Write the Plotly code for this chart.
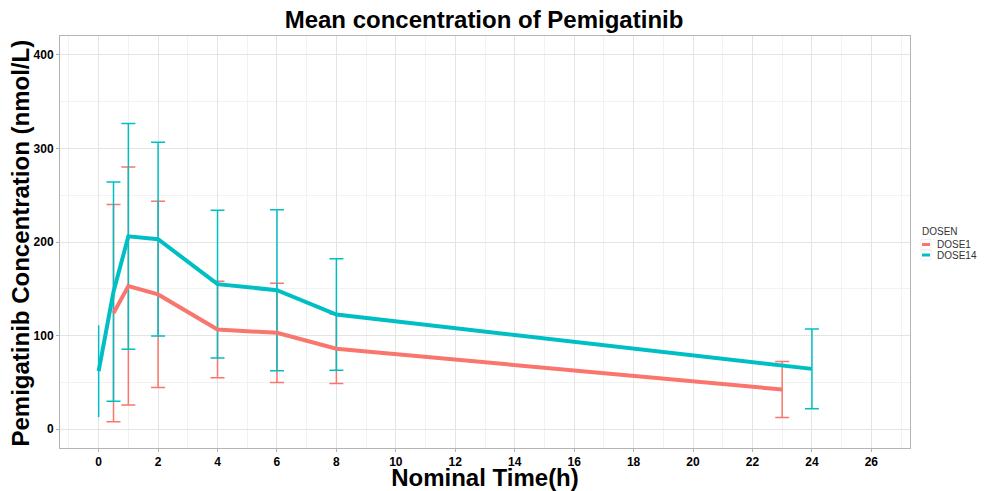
import plotly.graph_objects as go

# Data
dose1_time = [0.5, 1, 2, 4, 6, 8, 23]
dose1_mean = [124, 153, 144, 106.5, 103, 86, 42.5]
dose1_sd = [116, 127, 99.5, 51.5, 53, 37, 30]

dose14_time = [0, 0.5, 1, 2, 4, 6, 8, 24]
dose14_mean = [62, 147, 206, 203, 155, 148.5, 122.5, 64.5]
dose14_sd = [49, 117, 120.5, 103.5, 79, 86, 59.5, 42.5]

x_ticks = list(range(0, 27, 2))
y_ticks = [0, 100, 200, 300, 400]

series_names = ["DOSE1", "DOSE14"]
RED = "#F8766D"
CYAN = "#00BFC4"
colors = [RED, CYAN]
FONT = "Liberation Sans, Arial, sans-serif"
NARROW = "Liberation Sans Narrow, Arial Narrow, Liberation Sans, Arial, sans-serif"

W, H = 984, 491
ML, MR, MT, MB = 60, 74, 36, 43
PW, PH = W - ML - MR, H - MT - MB

fig = go.Figure()

# error bars (DOSE1)
fig.add_trace(go.Scatter(
    x=dose1_time, y=dose1_mean, mode="markers", marker=dict(size=0.1, color=RED, opacity=0),
    error_y=dict(type="data", array=dose1_sd, visible=True, color=RED, thickness=1.5, width=7),
    showlegend=False, hoverinfo="skip"))
# error bars (DOSE14) - first point drawn without caps
fig.add_trace(go.Scatter(
    x=dose14_time[:1], y=dose14_mean[:1], mode="markers", marker=dict(size=0.1, color=CYAN, opacity=0),
    error_y=dict(type="data", array=dose14_sd[:1], visible=True, color=CYAN, thickness=1.5, width=0),
    showlegend=False, hoverinfo="skip"))
fig.add_trace(go.Scatter(
    x=dose14_time[1:], y=dose14_mean[1:], mode="markers", marker=dict(size=0.1, color=CYAN, opacity=0),
    error_y=dict(type="data", array=dose14_sd[1:], visible=True, color=CYAN, thickness=1.5, width=7),
    showlegend=False, hoverinfo="skip"))

# mean lines
fig.add_trace(go.Scatter(x=dose1_time, y=dose1_mean, mode="lines", name="DOSE1",
                         line=dict(color=RED, width=4), showlegend=False))
fig.add_trace(go.Scatter(x=dose14_time, y=dose14_mean, mode="lines", name="DOSE14",
                         line=dict(color=CYAN, width=4), showlegend=False))


def px_x(px):
    return (px - ML) / PW


def px_y(py):
    return (H - MB - py) / PH


# compact ggplot-style legend (title, keys, labels) in the right margin
annotations = [dict(text="DOSEN", xref="paper", yref="paper", x=px_x(920), y=px_y(231),
                    xanchor="left", yanchor="middle", showarrow=False,
                    font=dict(size=10, color="#333333", family=FONT))]
shapes = []
for i, (nm, col) in enumerate(zip(series_names, colors)):
    yy = 244.5 + i * 10.5
    shapes.append(dict(type="rect", xref="paper", yref="paper", x0=px_x(921), x1=px_x(931),
                       y0=px_y(yy + 5), y1=px_y(yy - 5), line=dict(width=0.6, color="#E6E6E6"),
                       fillcolor="white", layer="above"))
    shapes.append(dict(type="line", xref="paper", yref="paper", x0=px_x(922), x1=px_x(930),
                       y0=px_y(yy), y1=px_y(yy), line=dict(color=col, width=3), layer="above"))
    annotations.append(dict(text=nm, xref="paper", yref="paper", x=px_x(934.5), y=px_y(yy),
                            xanchor="left", yanchor="middle", showarrow=False,
                            font=dict(size=10, color="#333333", family=FONT)))

# y-axis title placed as a rotated annotation
annotations.append(dict(text="<b>Pemigatinib Concentration (nmol/L)</b>", textangle=-90,
                        xref="paper", yref="paper", x=px_x(19.5), y=px_y(243),
                        xanchor="center", yanchor="middle", showarrow=False,
                        font=dict(size=24, family=FONT, color="black")))

fig.update_layout(
    width=W, height=H,
    margin=dict(l=ML, r=MR, t=MT, b=MB, autoexpand=False),
    paper_bgcolor="white", plot_bgcolor="white",
    font=dict(family=FONT, color="black"),
    title=dict(text="<b>Mean concentration of Pemigatinib</b>", x=0.4919, xanchor="center", xref="container",
               y=1 - 20 / 491, yanchor="middle", font=dict(size=24, family=FONT, color="black")),
    showlegend=False,
    annotations=annotations,
    shapes=shapes,
)

fig.update_xaxes(
    automargin=False,
    range=[-1.3, 27.3], tickvals=x_ticks, ticktext=[f"<b>{v}</b>" for v in x_ticks],
    tickfont=dict(size=12, family=NARROW, color="black"),
    showgrid=True, gridcolor="#E4E4E4", gridwidth=1,
    minor=dict(dtick=1, tick0=1, showgrid=True, gridcolor="#F2F2F2", gridwidth=0.8),
    ticks="outside", ticklen=3, tickcolor="#B3B3B3",
    showline=True, linecolor="#B3B3B3", linewidth=1, mirror=True, zeroline=False,
    title=dict(text="<b>Nominal Time(h)</b>", font=dict(size=24, family=NARROW, color="black"), standoff=0),
)
fig.update_yaxes(
    automargin=False,
    range=[-20, 420], tickvals=y_ticks, ticktext=[f"<b>{v}</b>" for v in y_ticks],
    tickfont=dict(size=12, family=NARROW, color="black"),
    showgrid=True, gridcolor="#E4E4E4", gridwidth=1,
    minor=dict(dtick=50, tick0=50, showgrid=True, gridcolor="#F2F2F2", gridwidth=0.8),
    ticks="outside", ticklen=3, tickcolor="#B3B3B3",
    showline=True, linecolor="#B3B3B3", linewidth=1, mirror=True, zeroline=False,
)

fig.write_html("out.html", config={"displayModeBar": False},
               post_script="document.body.style.margin='0';document.body.style.padding='0';")
